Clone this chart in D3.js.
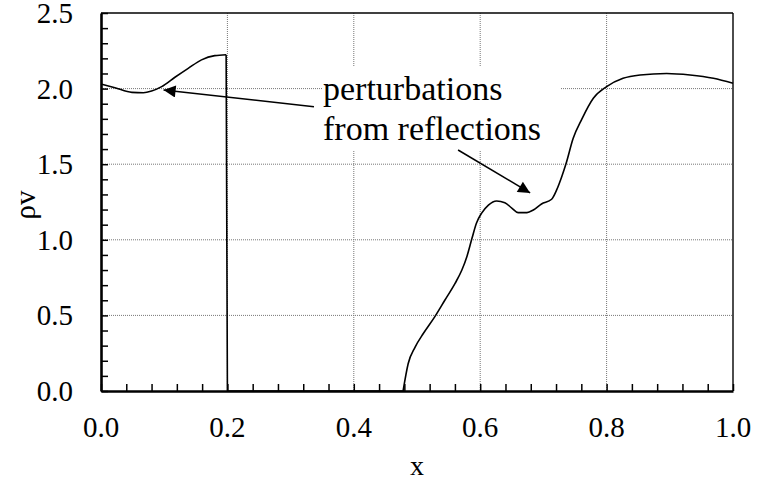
<!DOCTYPE html>
<html>
    <head>
        <script src="https://d3js.org/d3.v7.min.js"></script>
        <style type="text/css">
            html, body {
                margin: 0;
                padding: 0;
                background: #fff;
            }
            svg text {
                font-family: "Liberation Serif", "Times New Roman", serif;
                fill: #000;
            }
            .grid line {
                stroke: #777;
                stroke-width: 1;
                stroke-dasharray: 1,1;
            }
        </style>
    </head>
    <body>
        <svg id="chart" width="762" height="481"></svg>
        <script>
            // left piece: before the drop at x = 0.2
            var leftX = [0.0, 0.022, 0.049, 0.067, 0.080, 0.096, 0.117, 0.138, 0.159, 0.180, 0.198];
            var leftY = [2.03, 2.006, 1.975, 1.973, 1.984, 2.013, 2.075, 2.134, 2.19, 2.218, 2.224];

            // flat zero stretch after the drop
            var zeroX = [0.2, 0.478];

            // right piece rising from x = 0.478
            var rightX = [0.478, 0.486, 0.497, 0.510, 0.528, 0.544, 0.560, 0.571, 0.579, 0.587, 0.594, 0.602,
                          0.613, 0.626, 0.639, 0.650, 0.660, 0.674, 0.684, 0.697, 0.713, 0.721, 0.729, 0.736,
                          0.747, 0.761, 0.779, 0.800, 0.826, 0.853, 0.895, 0.932, 0.969, 1.0];
            var rightY = [0.0, 0.18, 0.29, 0.38, 0.49, 0.60, 0.71, 0.80, 0.89, 1.01, 1.11, 1.175,
                          1.23, 1.257, 1.245, 1.21, 1.18, 1.18, 1.197, 1.237, 1.268, 1.33, 1.417, 1.506,
                          1.67, 1.80, 1.936, 2.013, 2.068, 2.09, 2.10, 2.09, 2.068, 2.035];

            var xTicks = [0.0, 0.2, 0.4, 0.6, 0.8, 1.0];
            var yTicks = [0.0, 0.5, 1.0, 1.5, 2.0, 2.5];
            var xMinor = d3.range(0, 1.0001, 0.04);
            var yMinor = d3.range(0, 2.5001, 0.1);

            var noteLines = ["perturbations", "from reflections"];
            // arrow tails and tips, in data units
            var arrows = [
                {from: [0.337, 1.880], to: [0.099, 1.99]},
                {from: [0.565, 1.594], to: [0.679, 1.31]}
            ];

            var pL = 101, pR = 733, pT = 13, pB = 391;
            var svg = d3.select("#chart");

            var x = d3.scaleLinear().domain([0, 1]).range([pL, pR]);
            var y = d3.scaleLinear().domain([0, 2.5]).range([pB, pT]);

            svg.append("defs").append("marker")
                .attr("id", "head")
                .attr("viewBox", "0 0 10 10")
                .attr("refX", 10).attr("refY", 5)
                .attr("markerWidth", 16).attr("markerHeight", 12)
                .attr("markerUnits", "userSpaceOnUse")
                .attr("orient", "auto")
                .append("path")
                .attr("d", "M0,0 L10,5 L0,10 Z")
                .attr("fill", "#000");

            // dotted grid lines
            var grid = svg.append("g").attr("class", "grid");
            grid.selectAll(".gx")
                .data(xTicks.slice(1, -1))
                .enter().append("line")
                .attr("x1", d => x(d)).attr("x2", d => x(d))
                .attr("y1", pT).attr("y2", pB);
            grid.selectAll(".gy")
                .data(yTicks.slice(1, -1))
                .enter().append("line")
                .attr("y1", d => y(d)).attr("y2", d => y(d))
                .attr("x1", pL).attr("x2", pR);

            // the data curve
            var line = d3.line()
                .x(d => x(d[0]))
                .y(d => y(d[1]))
                .curve(d3.curveMonotoneX);

            var leftPts = leftX.map((v, i) => [v, leftY[i]]);
            var rightPts = rightX.map((v, i) => [v, rightY[i]]);
            var dropPts = [leftPts[leftPts.length - 1], [zeroX[0], 0], [zeroX[1], 0]];

            svg.append("path").attr("d", line(leftPts))
                .attr("fill", "none").attr("stroke", "#000").attr("stroke-width", 1.6);
            svg.append("path").attr("d", line.curve(d3.curveLinear)(dropPts))
                .attr("fill", "none").attr("stroke", "#000").attr("stroke-width", 1.6);
            svg.append("path").attr("d", line.curve(d3.curveMonotoneX)(rightPts))
                .attr("fill", "none").attr("stroke", "#000").attr("stroke-width", 1.6);

            // frame
            svg.append("line").attr("x1", pL).attr("x2", pR).attr("y1", pT).attr("y2", pT)
                .attr("stroke", "#000").attr("stroke-width", 1.4);
            svg.append("line").attr("x1", pR).attr("x2", pR).attr("y1", pT).attr("y2", pB)
                .attr("stroke", "#000").attr("stroke-width", 1.4);

            // axes with inward ticks
            var xAxis = svg.append("g")
                .attr("transform", "translate(0," + pB + ")")
                .call(d3.axisBottom(x).tickValues(xMinor).tickSize(-7).tickSizeOuter(0).tickFormat(""));
            var yAxis = svg.append("g")
                .attr("transform", "translate(" + pL + ",0)")
                .call(d3.axisLeft(y).tickValues(yMinor).tickSize(-7).tickSizeOuter(0).tickFormat(""));
            [xAxis, yAxis].forEach(function(g) {
                g.select(".domain").attr("stroke", "#000").attr("stroke-width", 2.6);
                g.selectAll(".tick line").attr("stroke", "#000").attr("stroke-width", 1.5);
            });

            svg.selectAll(".xl")
                .data(xTicks)
                .enter().append("text")
                .attr("x", d => x(d)).attr("y", 437)
                .attr("text-anchor", "middle")
                .attr("font-size", 29)
                .text(d => d.toFixed(1));
            svg.selectAll(".yl")
                .data(yTicks)
                .enter().append("text")
                .attr("x", 73).attr("y", d => y(d) + 10)
                .attr("text-anchor", "end")
                .attr("font-size", 29)
                .text(d => d.toFixed(1));

            svg.append("text")
                .attr("x", 417).attr("y", 475)
                .attr("text-anchor", "middle")
                .attr("font-size", 28)
                .text("x");
            svg.append("text")
                .attr("transform", "translate(35,205) rotate(-90)")
                .attr("text-anchor", "middle")
                .attr("font-size", 29)
                .text("\u03c1v");

            // annotation with white box behind it
            svg.append("rect")
                .attr("x", 322).attr("y", 66).attr("width", 238).attr("height", 84)
                .attr("fill", "#fff");
            svg.selectAll(".note")
                .data(noteLines)
                .enter().append("text")
                .attr("x", 323).attr("y", (d, i) => 100 + i * 40)
                .attr("font-size", 34)
                .text(d => d);

            svg.selectAll(".arrow")
                .data(arrows)
                .enter().append("line")
                .attr("x1", d => x(d.from[0])).attr("y1", d => y(d.from[1]))
                .attr("x2", d => x(d.to[0])).attr("y2", d => y(d.to[1]))
                .attr("stroke", "#000").attr("stroke-width", 1.5)
                .attr("marker-end", "url(#head)");
        </script>
    </body>
</html>
